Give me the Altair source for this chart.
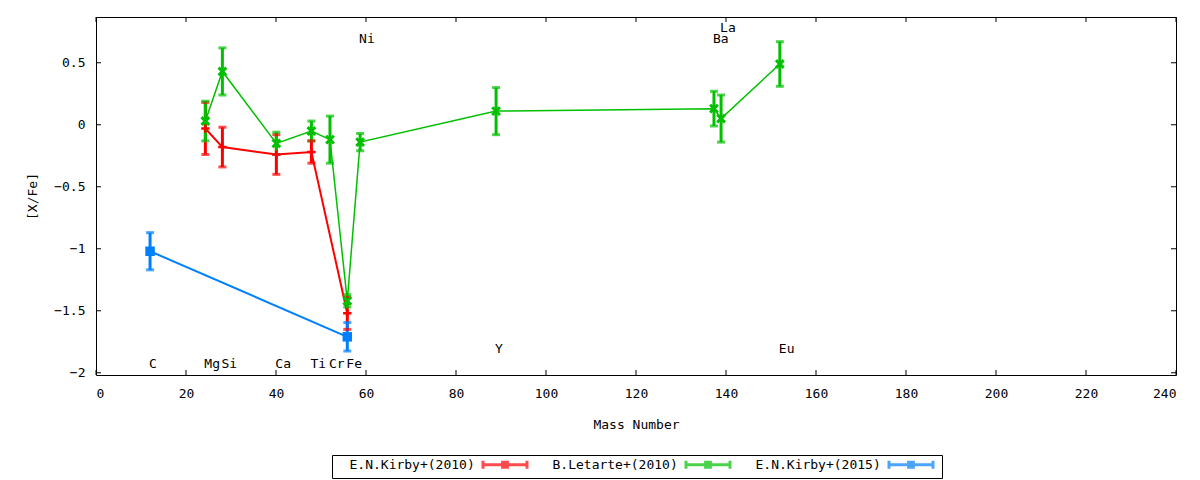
import altair as alt
import pandas as pd

# ---- data ----
series_names = ["E.N.Kirby+(2010)", "B.Letarte+(2010)", "E.N.Kirby+(2015)"]
series_colors = ["#ff0000", "#00c000", "#0080ff"]
series_line_widths = [2, 1.5, 2]

red_mass = [24.305, 28.086, 40.078, 47.867, 55.845]
red_val = [-0.03, -0.18, -0.24, -0.22, -1.52]
red_err = [0.21, 0.16, 0.16, 0.09, 0.13]

green_mass = [24.305, 28.086, 40.078, 47.867, 51.996, 55.845, 58.693, 88.906, 137.327, 138.905, 151.964]
green_val = [0.03, 0.43, -0.15, -0.05, -0.12, -1.42, -0.14, 0.11, 0.13, 0.05, 0.49]
green_err = [0.16, 0.19, 0.09, 0.08, 0.19, 0.05, 0.07, 0.19, 0.14, 0.19, 0.18]

blue_mass = [12.011, 55.845]
blue_val = [-1.02, -1.71]
blue_err = [0.15, 0.115]

label_names = ["C", "Mg", "Si", "Ca", "Ti", "Cr", "Fe", "Ni", "Y", "Ba", "La", "Eu"]
label_mass = [12.011, 24.305, 28.086, 40.078, 47.867, 51.996, 55.845, 58.693, 88.906, 137.327, 138.905, 151.964]
label_y = [-1.93, -1.93, -1.93, -1.93, -1.93, -1.93, -1.93, 0.69, -1.81, 0.69, 0.78, -1.81]

x_ticks = [0, 20, 40, 60, 80, 100, 120, 140, 160, 180, 200, 220, 240]
y_ticks = [-2, -1.5, -1, -0.5, 0, 0.5]

W, H = 1080, 358
FONT = "DejaVu Sans Mono"

rows = []
for name, ms, vs, es in [
    (series_names[0], red_mass, red_val, red_err),
    (series_names[1], green_mass, green_val, green_err),
    (series_names[2], blue_mass, blue_val, blue_err),
]:
    for i, (m, v, e) in enumerate(zip(ms, vs, es)):
        rows.append(dict(series=name, mass=m, val=v, lo=v - e, hi=v + e, order=i))
df = pd.DataFrame(rows)

labels_df = pd.DataFrame(dict(name=label_names, mass=label_mass, val=label_y))
xt_df = pd.DataFrame(dict(mass=x_ticks))
yt_df = pd.DataFrame(dict(val=y_ticks))

xenc = alt.X(
    "mass:Q",
    scale=alt.Scale(domain=[0, 240], nice=False, zero=False),
    axis=alt.Axis(values=x_ticks, title="Mass Number", ticks=False, domain=False,
                  tickSize=0, labelPadding=12, titlePadding=18, grid=False,
                  format="d"),
)
yenc = alt.Y(
    "val:Q",
    scale=alt.Scale(domain=[-2.018, 0.869], nice=False, zero=False),
    axis=alt.Axis(values=y_ticks, title="[X/Fe]", ticks=False, domain=False,
                  tickSize=0, labelPadding=11, titlePadding=14, grid=False,
                  format="~g"),
)

# error-bar style legend sample, drawn to the right of its label (gnuplot style)
legend_path = ("M47.17,0H61.83M47.17,-1.33V1.33M61.83,-1.33V1.33"
               "M53.7,-0.8H55.3V0.8H53.7Z")
color = alt.Color(
    "series:N",
    scale=alt.Scale(domain=series_names, range=series_colors),
    sort=series_names,
    legend=alt.Legend(
        title=None, orient="none", legendX=236, legendY=438, direction="horizontal",
        columns=3, symbolType=legend_path, symbolSize=36, symbolStrokeWidth=3,
        symbolFillColor="transparent",
        labelFont=FONT, labelFontSize=13, labelColor="black", labelLimit=300,
        labelOffset=1.5,
        strokeColor="black", fillColor="white", padding=3, columnPadding=5,
    ),
)

base = alt.Chart(df)

line_layers = [
    base.transform_filter(alt.datum.series == s).mark_line(strokeWidth=w).encode(
        x=xenc, y=yenc, color=color, order="order:Q")
    for s, w in zip(series_names, series_line_widths)
]
bars = base.mark_rule(strokeWidth=3).encode(x="mass:Q", y="lo:Q", y2="hi:Q", color=color)
cap_lo = base.mark_tick(orient="horizontal", size=8, thickness=3).encode(x="mass:Q", y="lo:Q", color=color)
cap_hi = base.mark_tick(orient="horizontal", size=8, thickness=3).encode(x="mass:Q", y="hi:Q", color=color)

pts_red = base.transform_filter(alt.datum.series == series_names[0]).mark_point(
    shape="M-1,0H1M0,-1V1", size=70, strokeWidth=2.5, filled=False, opacity=1
).encode(x="mass:Q", y="val:Q", color=color)
pts_green = base.transform_filter(alt.datum.series == series_names[1]).mark_point(
    shape="M-1,-1L1,1M-1,1L1,-1", size=60, strokeWidth=3, filled=False, opacity=1
).encode(x="mass:Q", y="val:Q", color=color)
pts_blue = base.transform_filter(alt.datum.series == series_names[2]).mark_point(
    shape="square", size=90, filled=True, opacity=1
).encode(x="mass:Q", y="val:Q", color=color)

texts = alt.Chart(labels_df).mark_text(
    align="left", baseline="middle", dx=-1, font=FONT, fontSize=13, color="black"
).encode(x="mass:Q", y="val:Q", text="name:N")

tick_len = 5
xt_bottom = alt.Chart(xt_df).mark_rule(color="black", strokeWidth=1).encode(
    x="mass:Q", y=alt.value(H), y2=alt.value(H - tick_len))
xt_top = alt.Chart(xt_df).mark_rule(color="black", strokeWidth=1).encode(
    x="mass:Q", y=alt.value(0), y2=alt.value(tick_len))
yt_left = alt.Chart(yt_df).mark_rule(color="black", strokeWidth=1).encode(
    y="val:Q", x=alt.value(0), x2=alt.value(tick_len))
yt_right = alt.Chart(yt_df).mark_rule(color="black", strokeWidth=1).encode(
    y="val:Q", x=alt.value(W), x2=alt.value(W - tick_len))

chart = alt.layer(
    *line_layers, bars, cap_lo, cap_hi, pts_red, pts_green, pts_blue, texts,
    xt_bottom, xt_top, yt_left, yt_right,
).properties(
    width=W, height=H,
    autosize=alt.AutoSizeParams(type="none"),
    padding={"left": 88, "top": 9, "right": 16, "bottom": 105},
    background="white",
).configure_view(
    stroke="black", strokeWidth=1
).configure_axis(
    labelFont=FONT, labelFontSize=13, labelColor="black",
    titleFont=FONT, titleFontSize=13, titleColor="black", titleFontWeight="normal",
)

chart.save("out.html", embed_options={"renderer": "svg", "actions": False})
